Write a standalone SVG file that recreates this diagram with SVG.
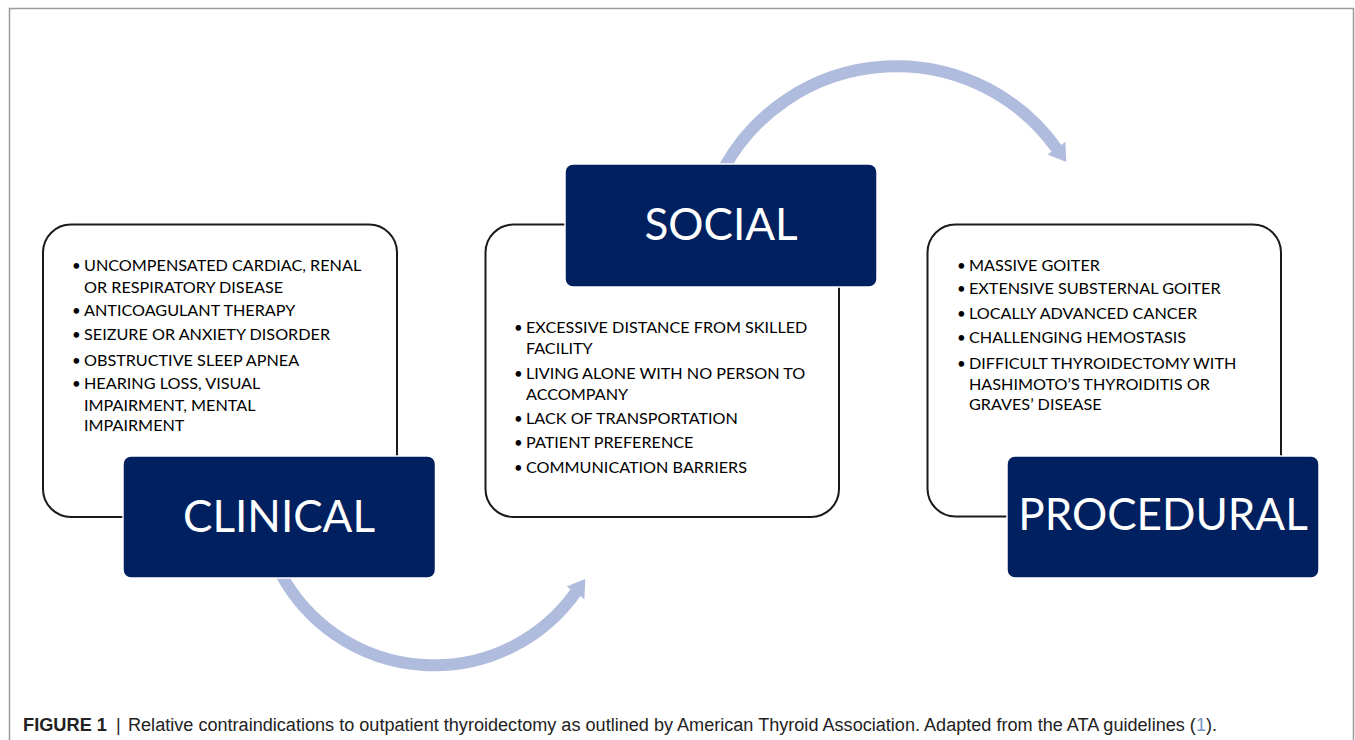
<svg xmlns="http://www.w3.org/2000/svg" width="1355" height="740" viewBox="0 0 1355 740">
  <style>
    .card { fill: #ffffff; stroke: #1a1a1a; stroke-width: 2; }
    .head { fill: #002060; stroke: #ffffff; stroke-width: 1.5; }
    .title { font-family: Lato, "Open Sans", sans-serif; font-size: 44px; fill: #ffffff; text-anchor: middle; }
    .item { font-family: Lato, "Open Sans", sans-serif; font-size: 16.2px; fill: #000000; }
    .dot { font-family: Lato, "Open Sans", sans-serif; font-size: 15px; fill: #000000; }
    .flow { fill: none; stroke: #b0bcde; stroke-width: 12; }
    .cap { font-family: "Liberation Sans", Arial, sans-serif; font-size: 18px; fill: #222222; }
  </style>
  <defs>
    <marker id="tip" markerUnits="userSpaceOnUse" markerWidth="24" markerHeight="28" viewBox="0 -14 24 28" refX="1" refY="0" orient="auto">
      <path d="M0,-11 L17,0 L0,11 z" fill="#b0bcde"/>
    </marker>
  </defs>

  <rect width="1355" height="740" fill="#ffffff"/>
  <!-- figure frame (open at the bottom) -->
  <path d="M9.5,740 V8.5 H1353.5 V740" fill="none" stroke="#9a9a9a" stroke-width="1.5"/>

  <!-- connectors -->
  <g id="connectors">
    <path class="flow" d="M281,574 A174,174 0 0 0 576,592" marker-end="url(#tip)"/>
    <path class="flow" d="M724,168 A197,197 0 0 1 1057,149" marker-end="url(#tip)"/>
  </g>

  <!-- clinical -->
  <g id="clinical">
    <rect class="card" x="43" y="224.5" width="354" height="292.5" rx="28"/>
    <text class="dot" x="72" y="270.5">•</text>
    <text class="item" x="84" y="270.5">UNCOMPENSATED CARDIAC, RENAL</text>
    <text class="item" x="84" y="292.5">OR RESPIRATORY DISEASE</text>
    <text class="dot" x="72" y="316">•</text>
    <text class="item" x="84" y="316">ANTICOAGULANT THERAPY</text>
    <text class="dot" x="72" y="340">•</text>
    <text class="item" x="84" y="340">SEIZURE OR ANXIETY DISORDER</text>
    <text class="dot" x="72" y="365.5">•</text>
    <text class="item" x="84" y="365.5">OBSTRUCTIVE SLEEP APNEA</text>
    <text class="dot" x="72" y="389">•</text>
    <text class="item" x="84" y="389">HEARING LOSS, VISUAL</text>
    <text class="item" x="84" y="410.5">IMPAIRMENT, MENTAL</text>
    <text class="item" x="84" y="431">IMPAIRMENT</text>
    <rect class="head" x="123" y="456" width="312.5" height="122" rx="8"/>
    <text class="title" x="279" y="532">CLINICAL</text>
  </g>

  <!-- social -->
  <g id="social">
    <rect class="card" x="485.5" y="224.5" width="353.5" height="292.5" rx="28"/>
    <text class="dot" x="514" y="333">•</text>
    <text class="item" x="526" y="333">EXCESSIVE DISTANCE FROM SKILLED</text>
    <text class="item" x="526" y="354">FACILITY</text>
    <text class="dot" x="514" y="379">•</text>
    <text class="item" x="526" y="379">LIVING ALONE WITH NO PERSON TO</text>
    <text class="item" x="526" y="400">ACCOMPANY</text>
    <text class="dot" x="514" y="424">•</text>
    <text class="item" x="526" y="424">LACK OF TRANSPORTATION</text>
    <text class="dot" x="514" y="448">•</text>
    <text class="item" x="526" y="448">PATIENT PREFERENCE</text>
    <text class="dot" x="514" y="473">•</text>
    <text class="item" x="526" y="473">COMMUNICATION BARRIERS</text>
    <rect class="head" x="565" y="164" width="312" height="123" rx="8"/>
    <text class="title" x="721" y="240">SOCIAL</text>
  </g>

  <!-- procedural -->
  <g id="procedural">
    <rect class="card" x="927.5" y="224.5" width="353.5" height="292" rx="28"/>
    <text class="dot" x="957" y="270.5">•</text>
    <text class="item" x="969" y="270.5">MASSIVE GOITER</text>
    <text class="dot" x="957" y="294">•</text>
    <text class="item" x="969" y="294">EXTENSIVE SUBSTERNAL GOITER</text>
    <text class="dot" x="957" y="319">•</text>
    <text class="item" x="969" y="319">LOCALLY ADVANCED CANCER</text>
    <text class="dot" x="957" y="343">•</text>
    <text class="item" x="969" y="343">CHALLENGING HEMOSTASIS</text>
    <text class="dot" x="957" y="369">•</text>
    <text class="item" x="969" y="369">DIFFICULT THYROIDECTOMY WITH</text>
    <text class="item" x="969" y="389.5">HASHIMOTO’S THYROIDITIS OR</text>
    <text class="item" x="969" y="410">GRAVES’ DISEASE</text>
    <rect class="head" x="1007" y="456" width="312" height="122" rx="8"/>
    <text class="title" x="1163" y="530">PROCEDURAL</text>
  </g>

  <!-- caption -->
  <g id="caption">
    <text class="cap" x="23" y="731" font-weight="bold" textLength="84" lengthAdjust="spacingAndGlyphs">FIGURE 1</text>
    <text class="cap" x="116" y="731" fill="#555555">|</text>
    <text class="cap" x="128" y="731" textLength="1089" lengthAdjust="spacingAndGlyphs">Relative contraindications to outpatient thyroidectomy as outlined by American Thyroid Association. Adapted from the ATA guidelines (<tspan fill="#7a93c4">1</tspan>).</text>
  </g>
</svg>
